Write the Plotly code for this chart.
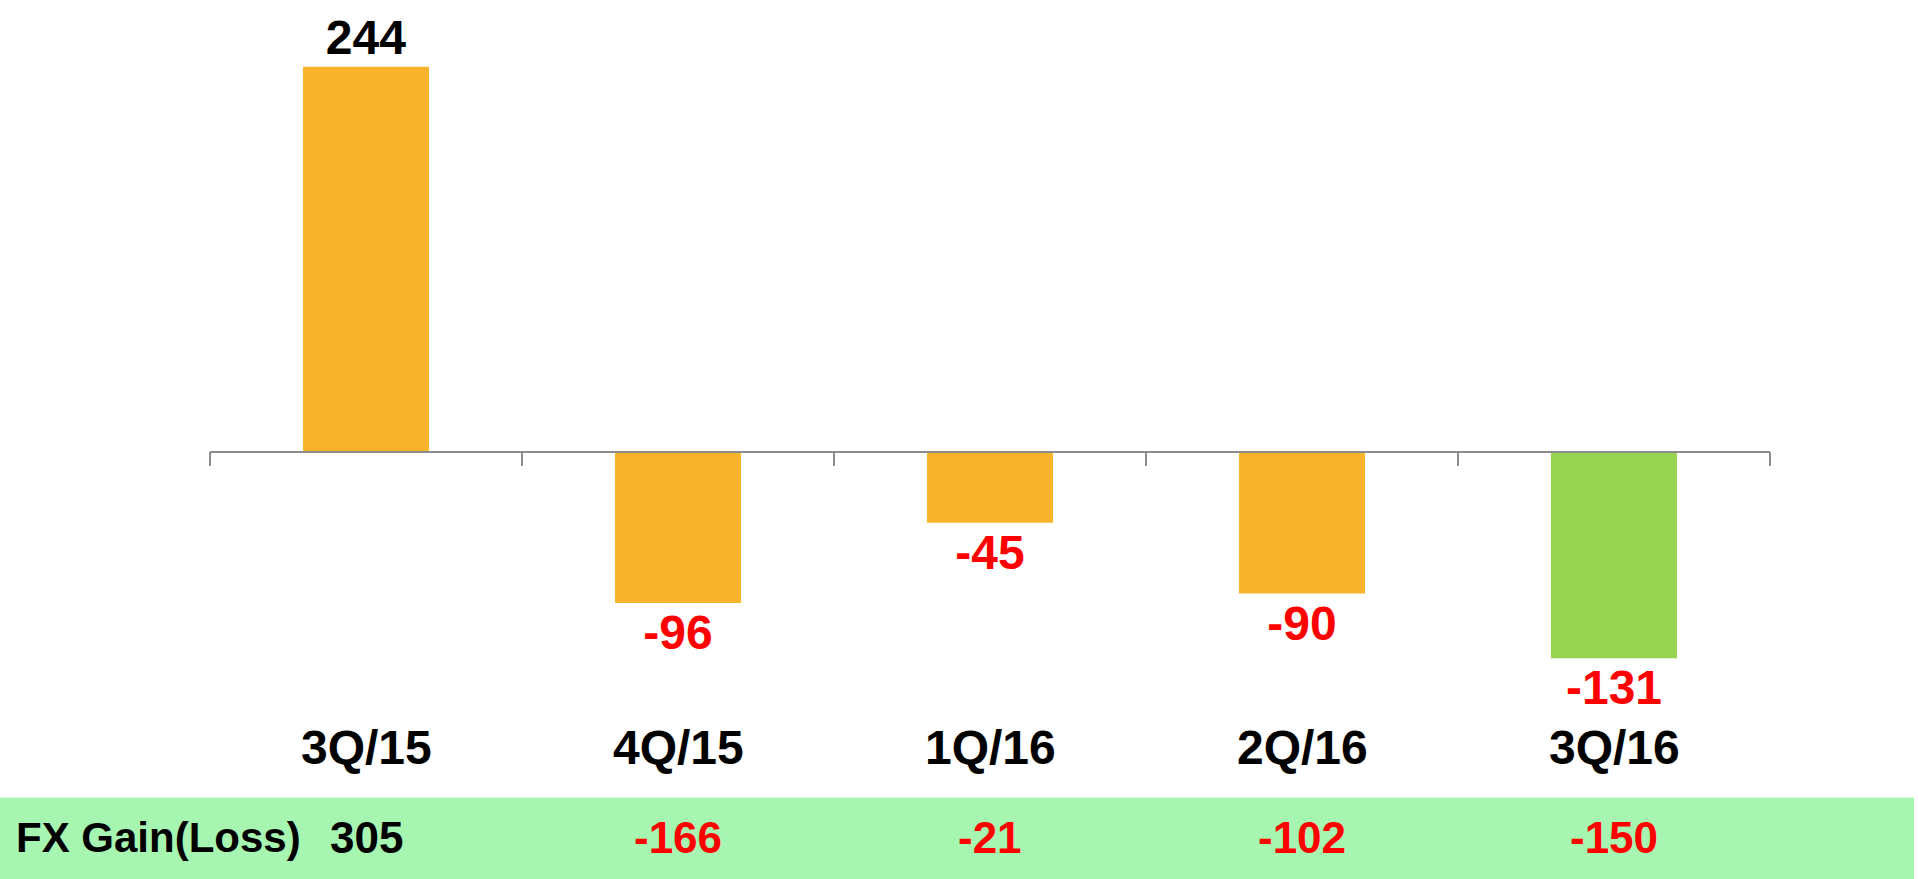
import plotly.graph_objects as go

# ---- data ----
quarters = ["3Q/15", "4Q/15", "1Q/16", "2Q/16", "3Q/16"]
net_values = [244, -96, -45, -90, -131]
fx_gain_loss = [305, -166, -21, -102, -150]
fx_row_title = "FX Gain(Loss)"
highlight_quarter = "3Q/16"

# ---- styles ----
W, H = 1918, 879
L, R, T, B = 210, 148, 0, 0
ORANGE = "#F9B32C"
GREEN = "#95D351"
BAND = "#A6F5B0"
RED = "#FF0000"
AXIS = "#8C8C8C"
FONT = "Liberation Sans, Arial, sans-serif"
Y_RANGE = [-270.9, 286.3]


def paper_x(px):
    return (px - L) / (W - L - R)


def paper_y(py):
    return (H - B - py) / (H - T - B)


bar_colors = [GREEN if q == highlight_quarter else ORANGE for q in quarters]
text_colors = ["black" if v >= 0 else RED for v in net_values]

fig = go.Figure()
fig.add_trace(go.Bar(
    x=quarters,
    y=net_values,
    marker=dict(color=bar_colors, line=dict(width=0)),
    text=[str(v) for v in net_values],
    textposition="outside",
    textfont=dict(family=FONT, size=48, color=text_colors, weight="bold"),
    constraintext="none",
    cliponaxis=False,
    hoverinfo="skip",
))

# green band with FX gain/loss row
fig.add_shape(type="rect", xref="paper", yref="paper",
              x0=paper_x(0), x1=paper_x(1914), y0=paper_y(H), y1=paper_y(797.5),
              fillcolor=BAND, line=dict(width=0), layer="below")

fig.add_annotation(xref="paper", yref="paper", x=paper_x(14), y=paper_y(837),
                   xanchor="left", yanchor="middle", showarrow=False,
                   text=fx_row_title,
                   font=dict(family=FONT, size=42, color="black", weight="bold"))

for q, v in zip(quarters, fx_gain_loss):
    fig.add_annotation(xref="x", yref="paper", x=q, y=paper_y(837),
                       xanchor="center", yanchor="middle", showarrow=False,
                       text=str(v),
                       font=dict(family=FONT, size=44,
                                 color="black" if v >= 0 else RED, weight="bold"))

# category labels
for q in quarters:
    fig.add_annotation(xref="x", yref="paper", x=q, y=paper_y(747),
                       xanchor="center", yanchor="middle", showarrow=False,
                       text=q,
                       font=dict(family=FONT, size=48, color="black", weight="bold"))

zero_pos = (0 - Y_RANGE[0]) / (Y_RANGE[1] - Y_RANGE[0])

fig.update_layout(
    width=W, height=H,
    margin=dict(l=L, r=R, t=T, b=B, pad=0),
    paper_bgcolor="white", plot_bgcolor="white",
    showlegend=False,
    bargap=0.596,
    xaxis=dict(
        type="category",
        range=[-0.5, len(quarters) - 0.5],
        anchor="free", position=zero_pos,
        showline=True, linecolor=AXIS, linewidth=1.5,
        ticks="outside", tickson="boundaries", ticklen=14,
        tickwidth=1.5, tickcolor=AXIS,
        showticklabels=False, showgrid=False, zeroline=False,
        fixedrange=True,
    ),
    yaxis=dict(range=Y_RANGE, visible=False, showgrid=False,
               zeroline=False, fixedrange=True),
)

fig.write_html("out.html",
               config={"displayModeBar": False},
               post_script="document.body.style.margin='0';document.body.style.overflow='hidden';")
